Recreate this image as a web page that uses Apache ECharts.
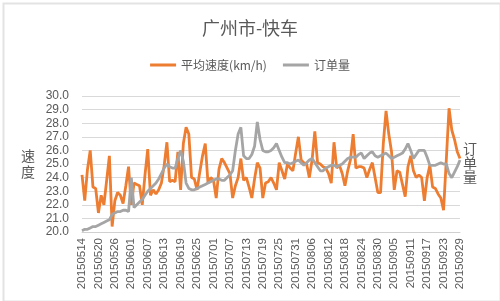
<!DOCTYPE html>
<html>
<head>
<meta charset="utf-8">
<script src="https://cdn.jsdelivr.net/npm/echarts@6/dist/echarts.min.js"></script>
<style>
html,body{margin:0;padding:0;background:#fff;}
#c{width:500px;height:301px;}
</style>
</head>
<body>
<div id="c"></div>
<script>
// categories: daily dates 20150514 .. 20150929
var startDate = new Date(2015, 4, 14);
var dates = [];
for (var d = 0; d < 139; d++) {
  var t = new Date(startDate.getTime() + d * 86400000);
  var mm = ('0' + (t.getMonth() + 1)).slice(-2), dd = ('0' + t.getDate()).slice(-2);
  dates.push('2015' + mm + dd);
}
var speedName = '平均速度(km/h)';
var orderName = '订单量';
var speed = [24.2,22.3,24.6,26.0,23.3,23.2,21.4,22.7,22.0,23.8,
25.6,20.4,22.3,22.9,22.7,22.1,23.4,24.8,22.0,23.6,
23.5,23.4,22.0,24.2,26.1,22.7,23.1,22.8,23.1,23.6,
24.9,26.6,23.7,23.8,23.7,25.9,23.1,26.5,27.7,27.2,
24.0,23.9,23.1,24.4,25.6,26.5,23.6,24.0,23.8,22.5,
24.6,25.4,25.1,24.7,24.3,22.5,23.4,24.0,25.4,23.8,
24.0,23.3,22.5,23.9,25.1,24.7,22.5,23.6,23.7,24.0,
23.6,23.1,25.1,24.5,23.9,25.0,24.7,24.5,25.8,27.0,
25.3,25.1,25.0,24.0,25.3,27.4,25.1,25.0,24.8,24.7,
24.3,23.6,26.6,24.7,24.9,24.3,23.4,24.5,25.3,27.2,
24.7,24.8,24.8,24.7,24.0,24.6,25.1,24.0,22.9,22.9,
26.5,28.9,27.2,25.9,23.1,24.5,24.4,23.5,22.6,24.8,
25.6,24.5,24.0,24.2,24.0,22.3,24.0,24.9,23.3,23.2,
22.8,22.5,21.6,25.3,29.1,27.5,26.8,25.9,25.4];
// order volume, read relative to the speed scale (secondary axis hidden)
var orders = [20.1,20.2,20.2,20.3,20.4,20.4,20.5,20.6,20.7,20.8,
20.9,21.3,21.4,21.5,21.5,21.6,21.6,21.5,24.0,21.8,
22.0,22.2,22.4,22.7,23.0,23.2,23.4,23.6,23.9,24.3,
24.7,25.0,24.8,24.7,24.7,25.4,26.0,25.2,23.6,23.2,
23.1,23.1,23.2,23.3,23.4,23.5,23.6,23.7,23.8,23.9,
23.9,23.8,23.8,24.0,24.2,24.5,26.0,27.2,27.7,25.6,
25.4,25.4,25.7,26.3,28.1,26.8,26.0,25.9,25.9,26.0,
26.2,26.5,26.0,25.5,25.1,25.1,25.0,25.1,25.2,25.3,
25.1,24.9,25.1,25.3,25.4,25.1,24.8,24.5,24.5,24.7,
24.8,24.9,24.9,24.8,24.9,25.0,25.2,25.4,25.5,25.5,
25.5,25.7,25.8,25.4,25.6,25.8,25.9,25.6,25.5,25.6,
25.7,25.8,25.6,25.4,25.5,25.6,25.7,25.8,26.1,26.5,
26.0,25.4,25.7,26.0,26.0,26.0,25.5,24.9,24.9,24.9,
25.0,25.1,25.0,25.0,24.3,24.0,24.4,24.8,25.3];
var yMin = 20, yMax = 30, yStep = 1;

var txt = '#595959';
var ff = '"Liberation Sans", "Noto Sans CJK SC", sans-serif';
var chart = echarts.init(document.getElementById('c'), null, {renderer: 'canvas'});
chart.setOption({
  animation: false,
  backgroundColor: '#fff',
  textStyle: {fontFamily: ff},
  title: {
    text: '广州市-快车', left: 'center', top: 14,
    textStyle: {color: txt, fontSize: 18, fontWeight: 'normal', fontFamily: '"Noto Sans CJK SC", sans-serif'}
  },
  legend: {
    top: 54, left: 'center', itemWidth: 26, itemHeight: 3, itemGap: 16,
    icon: 'rect',
    textStyle: {color: txt, fontSize: 12, fontFamily: '"Noto Sans CJK SC", sans-serif'},
    data: [speedName, orderName]
  },
  grid: {left: 82, right: 40, top: 96, bottom: 69},
  xAxis: {
    type: 'category', data: dates, boundaryGap: false,
    axisLine: {lineStyle: {color: '#d0d0d0'}},
    axisTick: {show: false},
    axisLabel: {interval: 5, rotate: 90, color: txt, fontSize: 11.5, margin: 6, fontFamily: ff}
  },
  yAxis: [{
    type: 'value', min: yMin, max: yMax, interval: yStep,
    axisLine: {show: false}, axisTick: {show: false},
    axisLabel: {color: txt, fontSize: 12, margin: 13, formatter: function (v) { return v.toFixed(1); }},
    splitLine: {lineStyle: {color: '#d9d9d9'}}
  }, {
    type: 'value', min: yMin, max: yMax, show: false
  }],
  series: [{
    name: speedName, type: 'line', data: speed, yAxisIndex: 0,
    symbol: 'none', lineStyle: {color: '#ED7D31', width: 2.8}, itemStyle: {color: '#ED7D31'}
  }, {
    name: orderName, type: 'line', data: orders, yAxisIndex: 1,
    symbol: 'none', lineStyle: {color: '#A5A5A5', width: 2.8}, itemStyle: {color: '#A5A5A5'}
  }],
  graphic: [{
    type: 'rect', left: 1, top: 1, silent: true,
    shape: {width: 497, height: 298},
    style: {fill: 'none', stroke: '#e3e3e3', lineWidth: 2}
  }, {
    type: 'text', left: 21, top: 148,
    style: {text: '速\n度', fill: txt, font: '14px "Noto Sans CJK SC"', lineHeight: 16}
  }, {
    type: 'text', left: 463, top: 142,
    style: {text: '订\n单\n量', fill: txt, font: '14px "Noto Sans CJK SC"', lineHeight: 14}
  }]
});
</script>
</body>
</html>
